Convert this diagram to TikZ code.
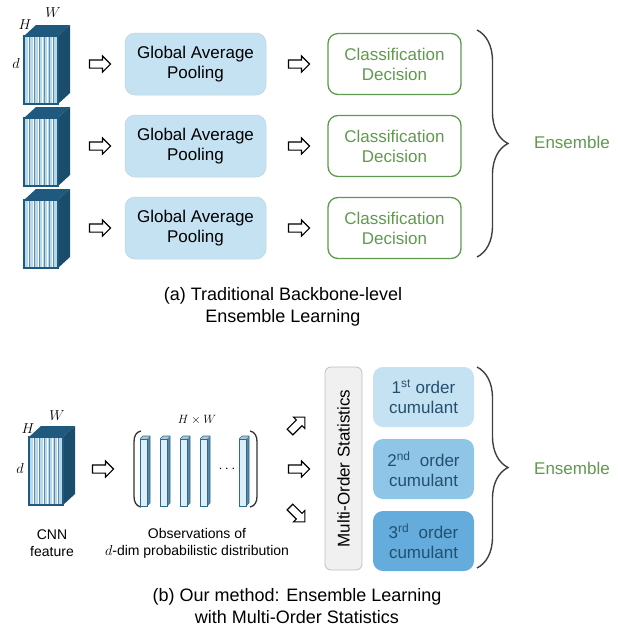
\documentclass[tikz,border=0pt]{standalone}
\usepackage{fontspec}
\setmainfont{Liberation Sans}
\usetikzlibrary{shapes.arrows,decorations.pathreplacing}
\definecolor{cubeblue}{HTML}{1F5A7E}
\definecolor{slice}{HTML}{B5DAEE}
\definecolor{gapfill}{HTML}{C5E2F2}
\definecolor{grn}{HTML}{5E9A4C}
\definecolor{cuma}{HTML}{C5E2F2}
\definecolor{cumb}{HTML}{8FC5E6}
\definecolor{cumc}{HTML}{63ACDC}
\definecolor{ctext}{HTML}{24506E}
\definecolor{barfill}{HTML}{DDEFF9}
\definecolor{baredge}{HTML}{2E6A8E}
\newcommand{\featcube}[2]{%
  \fill[cubeblue] (#1,#2) -- ++(12,-11) -- ++(34,0) -- ++(-12,11) -- cycle;
  \fill[cubeblue!85!black] ({#1+34},#2) -- ++(12,-11) -- ++(0,68) -- ++(-12,11) -- cycle;
  \fill[slice] (#1,#2) rectangle ++(34,68);
  \foreach \i in {1,...,6} {
    \draw[white,line width=1.1pt] ({#1+\i*4.86-0.5},#2) -- ++(0,68);
    \draw[cubeblue!70,line width=0.35pt] ({#1+\i*4.86+0.4},#2) -- ++(0,68);
  }
  \draw[cubeblue,line width=1.1pt] (#1,#2) rectangle ++(34,68);
}
\newcommand{\obsbar}[1]{%
  \fill[barfill!70!baredge] (#1,439) -- ++(3,-3) -- ++(7,0) -- ++(-3,3) -- cycle;
  \fill[baredge!80] ({#1+7},439) -- ++(3,-3) -- ++(0,67) -- ++(-3,3) -- cycle;
  \draw[baredge,fill=barfill,line width=0.8pt] (#1,439) rectangle ++(7,67);
  \draw[baredge,line width=0.6pt] (#1,439) -- ++(3,-3) -- ++(7,0) -- ++(0,67) -- ++(-3,3);
}
\tikzset{
  txt/.style={font=\fontsize{17}{20}\selectfont, align=center},
  small/.style={font=\fontsize{14}{17}\selectfont, align=center},
  gapbox/.style={txt, rounded corners=10pt, fill=gapfill, draw=gapfill!85!gray, line width=0.5pt, minimum width=141pt, minimum height=62pt, inner sep=0pt},
  clsbox/.style={txt, rounded corners=10pt, draw=grn, line width=1.3pt, text=grn, minimum width=133pt, minimum height=61pt, inner sep=0pt},
  cumbox/.style={txt, rounded corners=10pt, text=ctext, minimum width=101pt, minimum height=60pt, inner sep=0pt},
  hollow/.style={single arrow, draw=black, fill=white, line width=1.1pt, minimum height=21pt, inner xsep=0pt, inner ysep=3.5pt, single arrow head extend=4pt, single arrow tip angle=90},
  bracestyle/.style={decorate, decoration={brace, amplitude=31pt, aspect=0.5}, draw=black!75, line width=1.4pt},
  ens/.style={txt, text=grn},
  capt/.style={font=\fontsize{18}{22}\selectfont, align=center},
  mlab/.style={font=\fontsize{14}{14}\selectfont}
}
\begin{document}
\begin{tikzpicture}[x=1pt,y=-1pt]
\useasboundingbox (0,0) rectangle (619,630);
% ---------- (a) ----------
\featcube{24}{36}
\featcube{24}{118}
\featcube{24}{200}
\node[mlab] (wa) at (53,13) {$W$};
\node[mlab] (ha) at (25,25) {$H$};
\node[mlab] (da) at (16,63) {$d$};
\foreach \r/\y in {1/64,2/146,3/228}{
  \node[hollow] (ar\r) at (98,\y) {};
  \node[gapbox] (gap\r) at (195.5,\y) {Global Average\\Pooling};
  \node[hollow] (br\r) at (297,\y) {};
  \node[clsbox] (cls\r) at (394.5,\y) {Classification\\Decision};
}
\coordinate (bta) at (477,30);
\coordinate (bba) at (477,257);
\draw[bracestyle] (bta) -- (bba);
\node[ens] (ensa) at (572,142) {Ensemble};
\node[capt] (capa) at (283,307) {(a) Traditional Backbone-level\\Ensemble Learning};
% ---------- (b) ----------
\featcube{29}{437}
\node[mlab] (wb) at (57,416) {$W$};
\node[mlab] (hb) at (28,429) {$H$};
\node[mlab] (db) at (20,468) {$d$};
\node[small] (cnn) at (52,543) {CNN\\feature};
\node[hollow] (ar5) at (101,469) {};
\draw[black!80,line width=1.3pt] (141,431) .. controls (136,432) and (134,436) .. (134,442) -- (134,496) .. controls (134,502) and (136,506) .. (141,507);
\draw[black!80,line width=1.3pt] (250,431) .. controls (255,432) and (257,436) .. (257,442) -- (257,496) .. controls (257,502) and (255,506) .. (250,507);
\obsbar{140}
\obsbar{160}
\obsbar{180}
\obsbar{200}
\obsbar{239}
\node[mlab] (dots) at (227,469) {$\cdots$};
\node[font=\fontsize{12}{12}\selectfont] (hw) at (197,420) {$H\times W$};
\node[small] (obs) at (197,543) {Observations of\\$d$-dim probabilistic distribution};
\node[hollow, rotate=45] (ar6) at (296,426) {};
\node[hollow] (ar7) at (297,469) {};
\node[hollow, rotate=-45] (ar8) at (296,513) {};
\node[txt, rotate=90, rounded corners=6pt, fill=black!6, draw=black!25, line width=0.8pt, minimum width=203pt, minimum height=37pt, inner sep=0pt] (stats) at (343.5,468.5) {Multi-Order Statistics};
\node[cumbox, fill=cuma] (cum1) at (423.5,397) {1\textsuperscript{st} order\\cumulant};
\node[cumbox, fill=cumb] (cum2) at (423.5,469) {2\textsuperscript{nd}\ \ order\\cumulant};
\node[cumbox, fill=cumc] (cum3) at (423.5,541) {3\textsuperscript{rd}\ \ order\\cumulant};
\coordinate (btb) at (477,367);
\coordinate (bbb) at (477,568);
\draw[bracestyle] (btb) -- (bbb);
\node[ens] (ensb) at (572,468) {Ensemble};
\node[capt] (capb) at (297,606) {(b) Our method: Ensemble Learning\\with Multi-Order Statistics};
\end{tikzpicture}
\end{document}
